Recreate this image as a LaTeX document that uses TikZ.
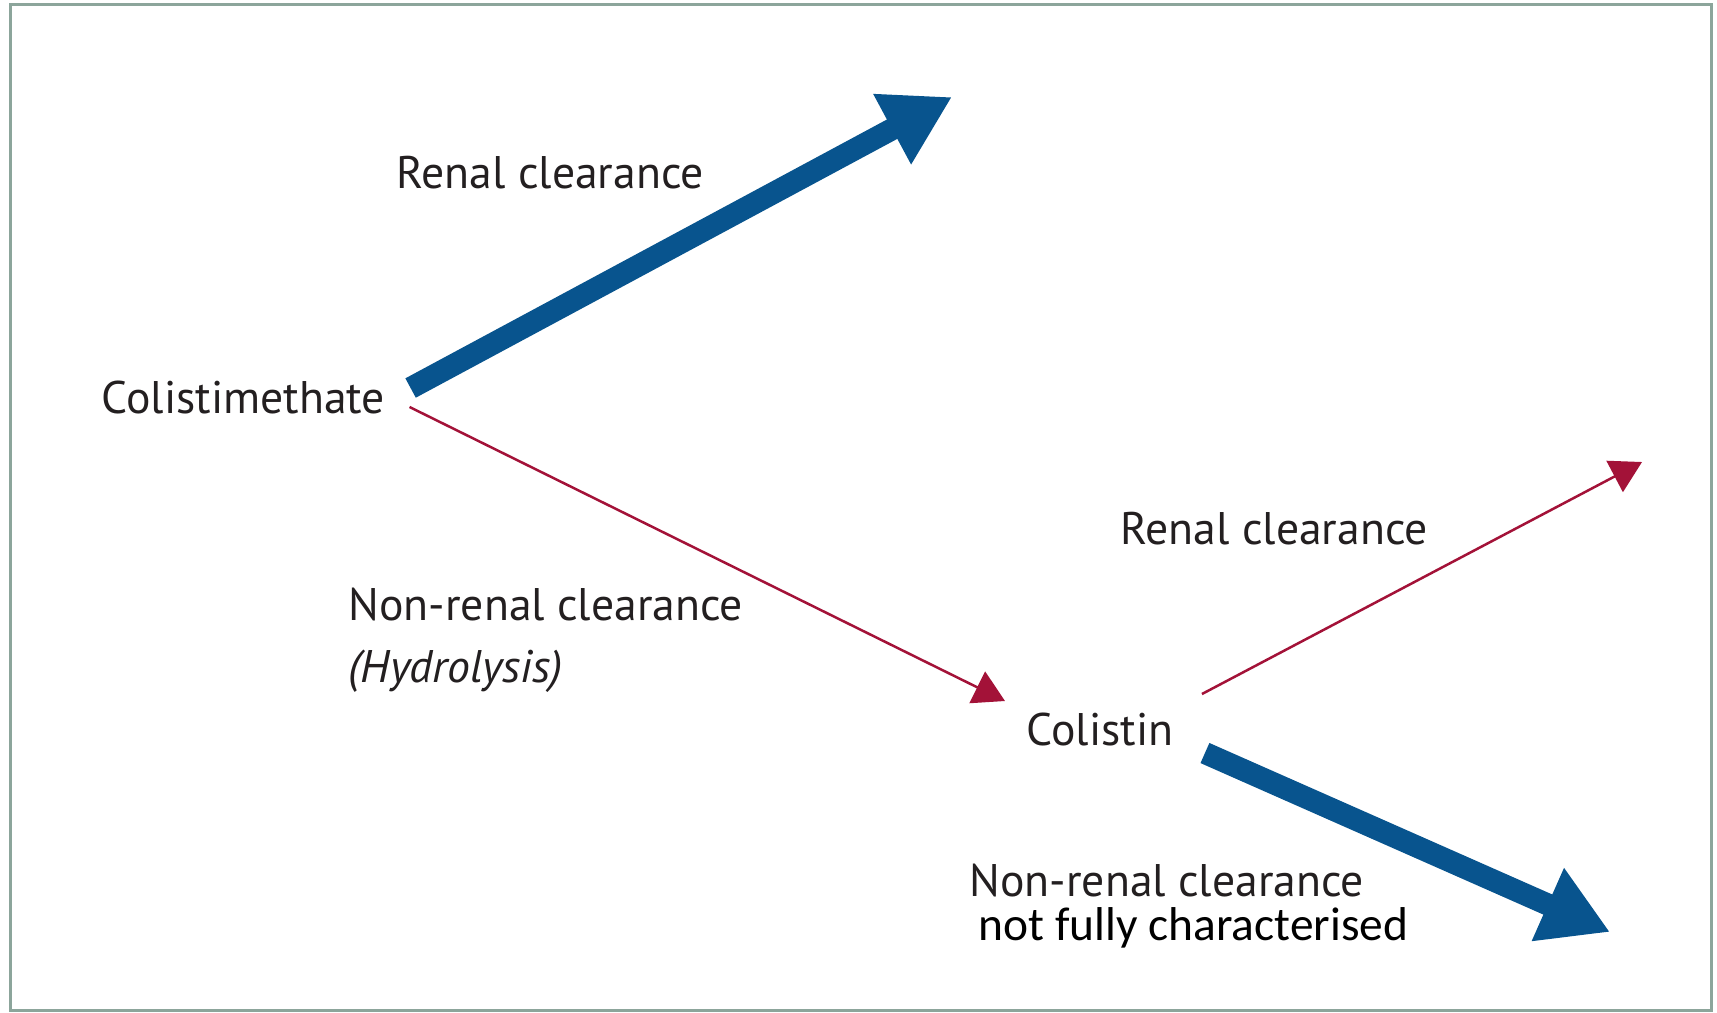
\documentclass[tikz,border=0pt]{standalone}
\usepackage{fontspec}
\setmainfont{PT Sans}
\newfontfamily\calibrifont{Carlito}
\usetikzlibrary{arrows.meta, positioning}

\definecolor{flowblue}{RGB}{8,84,142}
\definecolor{flowred}{RGB}{163,18,56}
\definecolor{framegreen}{RGB}{140,165,155}
\definecolor{labelgray}{RGB}{35,31,32}

\begin{document}
\begin{tikzpicture}[x=0.1mm, y=-0.1mm,
    drug label/.style = {
        anchor=base west,
        inner sep=0pt,
        text=labelgray,
        font=\fontsize{13}{17.6}\selectfont
    },
    path label/.style = {drug label},
    note label/.style = {anchor=base west, inner sep=0pt, text=black, font=\calibrifont\fontsize{13.5}{16}\selectfont},
    major flow/.style = {-{Triangle[length=6.8mm, width=7.5mm]}, line width=2.2mm, flowblue},
    minor flow/.style = {-{Triangle[length=3.1mm, width=3.5mm]}, line width=0.25mm, flowred}
]

\useasboundingbox (0,0) rectangle (1717,1012);
\draw[framegreen, line width=0.3mm] (10,4) rectangle (1711,1010);

% drugs
\node [drug label] (cmt) at (101,413) {Colistimethate};
\node [drug label] (col) at (1026,745) {Colistin};

% pathway labels
\node [path label] (renal1) at (396,188) {Renal clearance};
\node [path label] (hydro) at (348,620) {Non-renal clearance};
\node [path label] (hydro sub) at (348,682) {\textit{(Hydrolysis)}};
\node [path label] (renal2) at (1120,544) {Renal clearance};
\node [path label] (nonrenal2) at (969,896) {Non-renal clearance};
\node [note label] (note) at (978,940) {not fully characterised};

% free arrow ends
\coordinate (cmt out) at (952,97);
\coordinate (col renal) at (1642,462);
\coordinate (col other) at (1610,932);

\draw[major flow] ([xshift=2.5mm, yshift=0.9mm]cmt.east) -- (cmt out);
\draw[minor flow] ([xshift=2.4mm, yshift=-1mm]cmt.east) -- ([xshift=-2.1mm, yshift=2.8mm]col.west);
\draw[minor flow] ([xshift=2.8mm, yshift=3.5mm]col.east) -- (col renal);
\draw[major flow] ([xshift=3.1mm, yshift=-2.4mm]col.east) -- (col other);

\end{tikzpicture}
\end{document}
